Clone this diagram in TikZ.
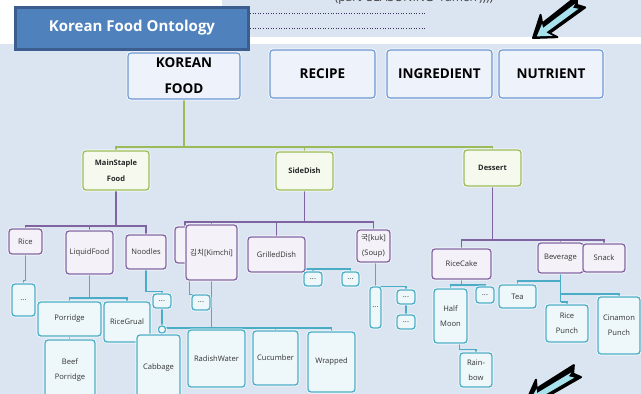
\documentclass[tikz,border=0pt]{standalone}
\usepackage{fontspec}
\setmainfont{Open Sans}
\newfontfamily\kr{Noto Sans CJK KR}
\usetikzlibrary{calc}
\definecolor{bgc}{HTML}{DBE5F1}
\definecolor{blueb}{HTML}{6A96D2}
\definecolor{bluef}{HTML}{EEF3FB}
\definecolor{greenb}{HTML}{9BBB59}
\definecolor{greenf}{HTML}{F6F9EE}
\definecolor{purpb}{HTML}{8064A2}
\definecolor{purpf}{HTML}{F4F1F8}
\definecolor{cyanb}{HTML}{4BACC6}
\definecolor{cyanf}{HTML}{EEF8FB}
\definecolor{txt}{HTML}{333333}
\definecolor{titlef}{HTML}{4F81BD}
\definecolor{titleb}{HTML}{3B5E8E}
\definecolor{dotc}{HTML}{403060}
\definecolor{arrc}{HTML}{A8E2EC}
\pgfdeclarelayer{back}
\pgfdeclarelayer{lines}
\pgfsetlayers{back,lines,main}
\newcommand\mybox[6]{\node[#1,minimum width=#4pt,minimum height=#5pt] (#2) at (#3) {#6};}
\tikzset{
  base/.style={rounded corners=3pt, align=center, inner sep=1pt, preaction={draw=white, line width=2.6pt}},
  topbox/.style={base, draw=blueb, line width=1.1pt, fill=bluef, text=black, font=\bfseries\fontsize{13.5}{26}\selectfont},
  gbox/.style={base, draw=greenb, line width=1.3pt, fill=greenf, text=black!85, font=\bfseries\fontsize{7.5}{16}\selectfont},
  pbox/.style={base, draw=purpb, line width=1.3pt, fill=purpf, text=txt, font=\fontsize{7.6}{15}\selectfont},
  cbox/.style={base, draw=cyanb, line width=1.3pt, fill=cyanf, text=txt, font=\fontsize{7.6}{15}\selectfont},
  gline/.style={draw=greenb, line width=1.3pt},
  pline/.style={draw=purpb, line width=1.1pt},
  cline/.style={draw=cyanb, line width=1.1pt},
  arrblack/.style={fill=black, draw=black, line width=2pt, line join=round},
  arrin/.style={fill=arrc, draw=none}
}
\newcommand\arrowshape{(0,0) -- (-20,14) -- (-16,6) -- (-60,7) -- (-55,0) -- (-60,-7) -- (-16,-6) -- (-20,-14) -- cycle}
\newcommand\arrowinner{(-4,1) -- (-17,10) -- (-14,3.5) -- (-54,4) -- (-50,0) -- (-54,-2) -- (-14,-2) -- (-16,-6) -- cycle}
\begin{document}
\begin{tikzpicture}[x=1pt,y=-1pt]
\useasboundingbox (0,0) rectangle (641,394);
\clip (0,0) rectangle (641,394);
\begin{pgfonlayer}{back}
\fill[white] (0,0) rectangle (641,394);
\fill[bgc] (222,0) rectangle (641,37);
\fill[bgc] (0,44) rectangle (641,394);
\draw[dotc, dotted, line width=0.6pt] (250,13.5) -- (425,13.5);
\draw[dotc, dotted, line width=0.6pt] (250,28) -- (425,28);
\node[font=\fontsize{12}{12}\selectfont, text=black!75] (toptext) at (414,-1) {(part 'SEASONING' 'ramen'))))};
\end{pgfonlayer}

% title
\node[draw=titleb, line width=3pt, fill=titlef, minimum width=233pt, minimum height=42pt,
  text=white, font=\bfseries\fontsize{15}{15}\selectfont] (title) at (132,28) {Korean Food Ontology};

% arrows
\begin{scope}[shift={(533,38)}, x=1pt, y=1pt, rotate=217]
  \path[arrblack] \arrowshape;
  \path[arrin] \arrowinner;
\end{scope}
\begin{scope}[shift={(526,402)}, x=1pt, y=1pt, rotate=211]
  \path[arrblack] \arrowshape;
  \path[arrin] \arrowinner;
\end{scope}

% top boxes
\mybox{topbox}{kf}{184,76}{112}{46}{KOREAN\\FOOD}
\mybox{topbox}{rec}{322.5,74}{105}{48}{RECIPE}
\mybox{topbox}{ing}{439.5,74}{105}{48}{INGREDIENT}
\mybox{topbox}{nut}{551,74}{104}{48}{NUTRIENT}

% level 1
\mybox{gbox}{msf}{116,170.5}{66}{39}{MainStaple\\Food}
\mybox{gbox}{sd}{304.5,171}{57}{38}{SideDish}
\mybox{gbox}{des}{492.5,168}{57}{36}{Dessert}

% level 2
\mybox{pbox}{rice}{25.5,241.5}{33}{25}{Rice}
\mybox{pbox}{liq}{89.5,252.5}{47}{43}{LiquidFood}
\mybox{pbox}{nood}{146,252}{40}{34}{Noodles}
\mybox{pbox}{hid}{185,245}{20}{36}{}
\mybox{pbox}{kim}{211.5,252.5}{51}{55}{{\kr 김치}[Kimchi]}
\mybox{pbox}{grill}{276.5,254.5}{57}{35}{GrilledDish}
\mybox{pbox}{soup}{373.5,246}{33}{32}{{\kr 국}[kuk]\\(Soup)}
\mybox{pbox}{rcake}{461.5,264}{59}{30}{RiceCake}
\mybox{pbox}{bev}{560.5,258}{45}{30}{Beverage}
\mybox{pbox}{snack}{604,258}{42}{28}{Snack}

% level 3
\mybox{cbox}{r1}{23.5,300}{23}{32}{...}
\mybox{cbox}{por}{69.5,319}{63}{34}{Porridge}
\mybox{cbox}{rg}{127,322}{46}{40}{RiceGrual}
\mybox{cbox}{bp}{70,370}{50}{60}{Beef\\Porridge}
\mybox{cbox}{n1}{162,301}{18}{14}{...}
\mybox{cbox}{sm}{162,329.5}{7}{7}{}
\mybox{cbox}{cab}{158.5,367.5}{43}{65}{Cabbage}
\mybox{cbox}{k1}{201,302.5}{18}{15}{...}
\mybox{cbox}{rw}{216.5,358.5}{57}{57}{RadishWater}
\mybox{cbox}{cuc}{275.5,358}{45}{54}{Cucumber}
\mybox{cbox}{wr}{331.5,362}{47}{60}{Wrapped}
\mybox{cbox}{g1}{313,279}{18}{14}{...}
\mybox{cbox}{g2}{350.5,279}{17}{14}{...}
\mybox{cbox}{s1}{375.5,307.5}{11}{41}{...}
\mybox{cbox}{s2}{406,297}{18}{14}{...}
\mybox{cbox}{s3}{406,322}{18}{14}{...}
\mybox{cbox}{hm}{450.5,316}{33}{54}{Half\\Moon}
\mybox{cbox}{c1}{485,295}{18}{16}{...}
\mybox{cbox}{rb}{476,370}{32}{34}{Rain-\\bow}
\mybox{cbox}{tea}{517.5,296.5}{37}{23}{Tea}
\mybox{cbox}{rp}{567,323.5}{42}{37}{Rice\\Punch}
\mybox{cbox}{cp}{619,325.5}{42}{57}{Cinamon\\Punch}

\begin{pgfonlayer}{lines}
% green
\coordinate (gb) at (0,147);
\draw[gline] (kf.south) -- (kf.south|-gb);
\draw[gline] (msf.north) |- (kf.south|-gb);
\draw[gline] (sd.north) -- (sd.north|-gb);
\draw[gline] (des.north) |- (kf.south|-gb);
% purple
\coordinate (mb) at (0,226);
\draw[pline] (msf.south) -- (msf.south|-mb);
\draw[pline] (rice.north) |- (nood.north|-mb) -- (nood.north);
\draw[pline] (liq.north) -- (liq.north|-mb);
\coordinate (sb) at (0,222);
\draw[pline] (sd.south) -- (sd.south|-sb);
\draw[pline] (hid.north) |- (soup.north|-sb) -- (soup.north);
\draw[pline] (kim.north) -- (kim.north|-sb);
\draw[pline] (grill.north) -- (grill.north|-sb);
\coordinate (db) at (0,240);
\draw[pline] (des.south) -- (des.south|-db);
\draw[pline] (rcake.north) |- (snack.north|-db) -- (snack.north);
\draw[pline] (bev.north) -- (bev.north|-db);
% cyan
\draw[cline] (rice.south) -- ++(0,26) -| (r1.north);
\coordinate (lb) at (0,298);
\draw[cline] (liq.south) -- (liq.south|-lb);
\draw[cline] (por.north) |- (rg.north|-lb) -- (rg.north);
\draw[cline] (por.south) -- (por.south|-bp.north);
\draw[cline] (nood.south) -- ++(0,22) -| (n1.north);
\draw[cline] (n1.south) -- (sm.north);
\draw[cline] (sm.south) -- (sm.south|-cab.north);
\coordinate (kb) at (0,328);
\draw[cline] (kim.south) -- (kim.south|-kb);
\draw[cline] (sm.east|-kb) -- (wr.north|-kb) -- (wr.north);
\draw[cline] (rw.north) -- (rw.north|-kb);
\draw[cline] (cuc.north) -- (cuc.north|-kb);
\draw[cline] ([xshift=4pt]kim.south west) |- (k1.north);
\coordinate (grb) at (0,269);
\draw[cline] (grill.south east|-grb) -- (g2.north|-grb) -- (g2.north);
\draw[cline] (g1.north) -- (g1.north|-grb);
\draw[cline] (s1.north) -- (s1.north|-soup.south);
\draw[cline] (s1.north) -| (s2.north);
\draw[cline] (s2.south) -- (s3.north);
\coordinate (rcb) at (0,285);
\draw[cline] (rcake.south) -- (rcake.south|-rcb);
\draw[cline] (hm.north) |- (c1.north|-rcb) -- (c1.north);
\draw[cline] ([xshift=9pt]hm.south) |- ([yshift=3pt]rb.north) -- (rb.north);
\coordinate (vb1) at (0,281);
\coordinate (vb2) at (0,294);
\coordinate (vb3) at (0,302);
\draw[cline] (bev.south) -- (bev.south|-vb3);
\draw[cline] (tea.north) |- (bev.south|-vb1);
\draw[cline] (cp.north) |- (bev.south|-vb2);
\draw[cline] (rp.north) |- (bev.south|-vb3);
\end{pgfonlayer}
\end{tikzpicture}
\end{document}
